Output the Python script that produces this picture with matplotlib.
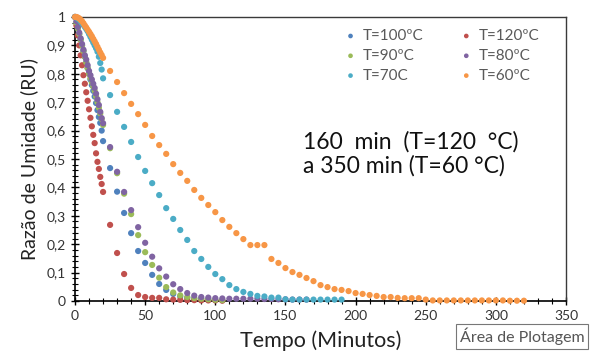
import numpy as np
import matplotlib
matplotlib.use("Agg")
import matplotlib.pyplot as plt
from matplotlib.ticker import MultipleLocator

#########################################################################################################################
# Data (time in minutes, moisture ratio RU)
t_dense = [0, 1, 2, 3, 4, 5, 6, 7, 8, 9, 10, 11, 12, 13, 14, 15, 16, 17, 18, 19, 20]

# T = 100 C
t_100 = t_dense + [25, 30, 35, 40, 45, 50, 55, 60, 65, 70, 75, 80, 85, 90, 95, 100, 105]
ru_100 = [1.0, 0.98, 0.96, 0.94, 0.92, 0.9, 0.88, 0.86, 0.84, 0.82, 0.80, 0.78, 0.76, 0.74, 0.72,
          0.697, 0.672, 0.648, 0.627, 0.60, 0.563,
          0.468, 0.385, 0.31, 0.239, 0.176, 0.134, 0.092, 0.06, 0.039, 0.025, 0.016, 0.011, 0.009,
          0.007, 0.005, 0.004, 0.003]

# T = 120 C
t_120 = t_dense + [25, 30, 35, 40, 45, 50, 55, 60, 65, 70, 75, 80, 85, 90, 95, 100, 105]
ru_120 = [1.0, 0.97, 0.935, 0.9, 0.865, 0.83, 0.795, 0.765, 0.735, 0.705, 0.675, 0.645, 0.615,
          0.585, 0.556, 0.52, 0.49, 0.465, 0.437, 0.412, 0.384,
          0.268, 0.169, 0.095, 0.046, 0.021, 0.014, 0.011, 0.011, 0.006, 0.005, 0.004, 0.003,
          0.003, 0.002, 0.002, 0.002, 0.001]

# T = 90 C
t_90 = t_dense + [25, 30, 35, 40, 45, 50, 55, 60, 65, 70, 75, 80, 85, 90, 95, 100, 105]
ru_90 = [1.0, 0.98, 0.96, 0.94, 0.92, 0.9, 0.88, 0.86, 0.84, 0.82, 0.80, 0.785, 0.77, 0.755,
         0.74, 0.72, 0.70, 0.68, 0.66, 0.64, 0.62,
         0.538, 0.45, 0.378, 0.306, 0.232, 0.172, 0.127, 0.082, 0.049, 0.03, 0.02, 0.014, 0.01,
         0.008, 0.006, 0.004, 0.003]

# T = 80 C
t_80 = t_dense + [25, 30, 35, 40, 45, 50, 55, 60, 65, 70, 75, 80, 85, 90, 95, 100, 105, 110,
                  115, 120, 125, 130, 135, 140, 145, 150, 155, 160, 165]
ru_80 = [1.0, 0.985, 0.965, 0.945, 0.925, 0.905, 0.885, 0.865, 0.85, 0.83, 0.81, 0.795, 0.78,
         0.765, 0.75, 0.73, 0.71, 0.69, 0.666, 0.644, 0.626,
         0.542, 0.455, 0.384, 0.32, 0.26, 0.205, 0.156, 0.115, 0.086, 0.059, 0.042, 0.028, 0.019,
         0.014, 0.012, 0.01, 0.009, 0.008, 0.008, 0.008, 0.008, 0.008, 0.007, 0.007, 0.006, 0.006,
         0.005, 0.005, 0.005]

# T = 70 C
t_70 = t_dense + [25, 30, 35, 40, 45, 50, 55, 60, 65, 70, 75, 80, 85, 90, 95, 100, 105, 110,
                  115, 120, 125, 130, 135, 140, 145, 150, 155, 160, 165, 170, 175, 180, 185, 190]
ru_70 = [1.0, 0.998, 0.995, 0.99, 0.985, 0.978, 0.972, 0.965, 0.958, 0.95, 0.94, 0.93, 0.92,
         0.91, 0.9, 0.89, 0.878, 0.86, 0.838, 0.815, 0.784,
         0.725, 0.666, 0.613, 0.56, 0.507, 0.458, 0.415, 0.373, 0.327, 0.289, 0.25, 0.215, 0.176,
         0.148, 0.12, 0.095, 0.077, 0.056, 0.042, 0.032, 0.025, 0.018, 0.016, 0.012, 0.012,
         0.006, 0.005, 0.005, 0.005, 0.005, 0.005, 0.005, 0.005, 0.005]

# T = 60 C
t_60 = t_dense + [25, 30, 35, 40, 45, 50, 55, 60, 65, 70, 75, 80, 85, 90, 95, 100, 105, 110,
                  115, 120, 125, 130, 135, 140, 145, 150, 155, 160, 165, 170, 175, 180, 185, 190,
                  195, 200, 205, 210, 215, 220, 225, 230, 235, 240, 245, 250, 255, 260, 265, 270,
                  275, 280, 285, 290, 295, 300, 305, 310, 315, 320]
ru_60 = [1.0, 1.0, 0.998, 0.995, 0.99, 0.985, 0.978, 0.97, 0.963, 0.955, 0.948, 0.94, 0.932,
         0.923, 0.914, 0.905, 0.895, 0.885, 0.875, 0.866, 0.856,
         0.81, 0.771, 0.732, 0.694, 0.658, 0.62, 0.581, 0.549, 0.518, 0.482, 0.451, 0.423, 0.391,
         0.363, 0.338, 0.313, 0.285, 0.261, 0.239, 0.218, 0.197, 0.197, 0.197, 0.148, 0.134,
         0.116, 0.102, 0.092, 0.081, 0.07, 0.056, 0.049, 0.042, 0.039, 0.035, 0.028, 0.025,
         0.021, 0.018, 0.014, 0.014, 0.011, 0.01, 0.01, 0.01, 0.005, 0.002, 0.002, 0.002, 0.002,
         0.002, 0.002, 0.002, 0.002, 0.002, 0.002, 0.002, 0.001, 0.001, 0.001]

series = [
    ("T=100ºC", t_100, ru_100, "#4F81BD"),
    ("T=120ºC", t_120, ru_120, "#C0504D"),
    ("T=90ºC", t_90, ru_90, "#9BBB59"),
    ("T=80ºC", t_80, ru_80, "#8064A2"),
    ("T=70C", t_70, ru_70, "#4BACC6"),
    ("T=60ºC", t_60, ru_60, "#F79646"),
]

y_ticks = [0, 0.1, 0.2, 0.3, 0.4, 0.5, 0.6, 0.7, 0.8, 0.9, 1.0]
y_labels = ["0", "0,1", "0,2", "0,3", "0,4", "0,5", "0,6", "0,7", "0,8", "0,9", "1"]
x_ticks = [0, 50, 100, 150, 200, 250, 300, 350]

#########################################################################################################################
# Plot
plt.rcParams['font.family'] = ['Lato', 'DejaVu Sans']

fig = plt.figure(figsize=(5.93, 3.54), dpi=100)
ax = fig.add_axes([0.1265, 0.1497, 0.828, 0.8023])

handles = []
for name, t, ru, c in series:
    h = ax.scatter(t, ru, s=20, color=c, edgecolors='none', label=name, zorder=3, clip_on=False)
    handles.append(h)

ax.set_xlim(0, 350)
ax.set_ylim(0, 1)
ax.set_xticks(x_ticks)
ax.set_yticks(y_ticks)
ax.set_yticklabels(y_labels)
ax.xaxis.set_minor_locator(MultipleLocator(10))
ax.yaxis.set_minor_locator(MultipleLocator(0.02))
ax.tick_params(axis='both', which='major', direction='inout', length=6, width=1,
               labelsize=10, colors='black', labelcolor='#333333')
ax.tick_params(axis='both', which='minor', direction='inout', length=4, width=0.8)

for side in ['left', 'bottom']:
    ax.spines[side].set_color('black')
    ax.spines[side].set_linewidth(1.2)
for side in ['top', 'right']:
    ax.spines[side].set_color('#3a3a3a')
    ax.spines[side].set_linewidth(1.0)

ax.set_xlabel("Tempo (Minutos)", fontsize=15.5, color='#222222', labelpad=6)
ax.set_ylabel("Razão de Umidade (RU)", fontsize=14, color='#222222', labelpad=6)

# legend filled row by row like the original (100|120, 90|80, 70|60)
order = [0, 2, 4, 1, 3, 5]
leg = ax.legend([handles[i] for i in order], [series[i][0] for i in order],
                ncol=2, loc='upper left', bbox_to_anchor=(0.53, 0.99), frameon=False,
                fontsize=11, markerscale=0.75, handlelength=0.8, handletextpad=0.4,
                columnspacing=2.4, labelspacing=0.38, borderaxespad=0.2)
for txt in leg.get_texts():
    txt.set_color('#595959')

ax.text(0.464, 0.519, "160  min  (T=120  °C)\na 350 min (T=60 °C)", transform=ax.transAxes,
        fontsize=16.5, color='#111111', va='center', ha='left', linespacing=1.15)

# Excel tooltip box from the screenshot
fig.text(0.775, 0.05, "Área de Plotagem", fontsize=11.5, color='#555555', va='center', ha='left',
         bbox=dict(boxstyle='square,pad=0.25', facecolor='white', edgecolor='#777777', linewidth=0.8))

fig.savefig("out.png", dpi=100)
